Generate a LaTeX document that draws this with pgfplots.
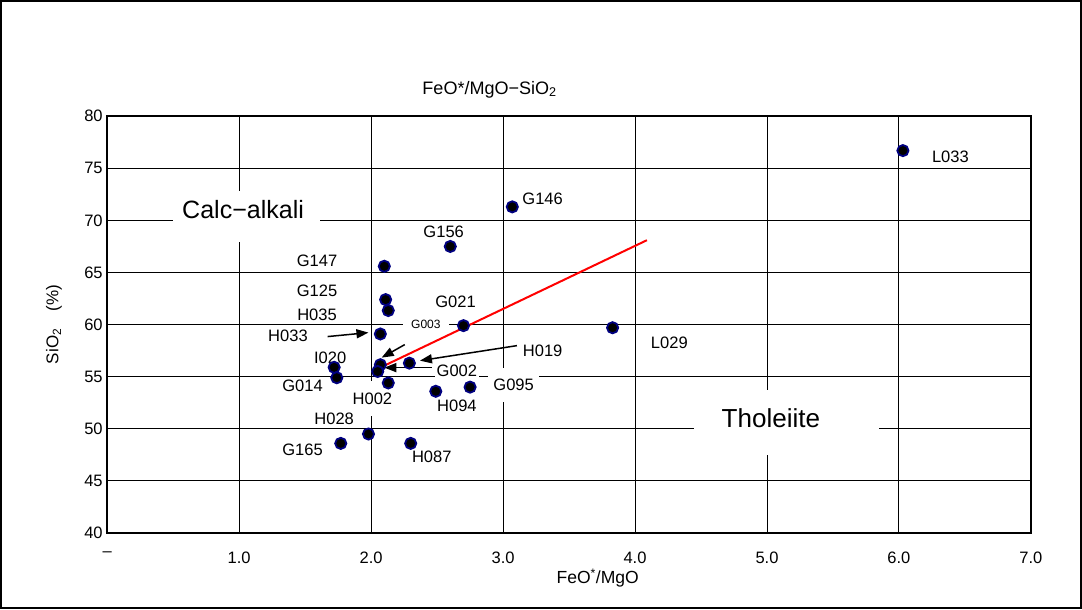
\documentclass[border=0pt]{standalone}
\usepackage{fontspec}
\setmainfont{Liberation Sans}
\usepackage{pgfplots}
\pgfplotsset{compat=1.18}
\usetikzlibrary{arrows.meta}
\definecolor{mknavy}{HTML}{000080}
\definecolor{trendred}{HTML}{FF0000}
\newcommand{\fs}[1]{\fontsize{#1}{#1}\selectfont}

\begin{document}
\begin{tikzpicture}[
  lab/.style={fill=white, inner xsep=2pt, inner ysep=2pt, font=\fs{16.5}},
  arr/.style={-{Triangle[length=12pt,width=9pt]}, line width=1.5pt}]
\begin{axis}[
  scale only axis, width=922pt, height=416pt,
  xmin=0, xmax=7, ymin=40, ymax=80,
  xtick={0,1,...,7}, xticklabels={–,1.0,2.0,3.0,4.0,5.0,6.0,7.0},
  ytick={40,45,...,80},
  major tick length=0pt,
  grid=major, major grid style={black, line width=0.9pt},
  axis line style={line width=1.8pt},
  tick label style={font=\fs{16.5}},
  /pgf/number format/assume math mode=true,
  yticklabel style={xshift=-1pt},
  xticklabel style={yshift=-15pt},
  title={FeO*/MgO−SiO\textsubscript{2}},
  title style={at={(axis description cs:0.414,1.05)}, anchor=center, font=\fs{18}},
  xlabel={FeO\textsuperscript{*}/MgO},
  xlabel style={at={(axis description cs:0.531,-0.108)}, anchor=center, font=\fs{17.5}},
  ylabel={SiO\textsubscript{2}\quad(\%)},
  ylabel style={at={(axis description cs:-0.0575,0.5)}, anchor=center, font=\fs{17}},
]
% white boxes behind the field names
\fill[white] (axis cs:0.50,67.9) rectangle (axis cs:1.61,72.8);
\fill[white] (axis cs:4.45,47.5) rectangle (axis cs:5.85,53.75);

% samples
\addplot[only marks, mark=*, mark size=5.6pt,
  mark options={fill=black, draw=mknavy, line width=1.8pt}] coordinates {
  (6.03,76.7)  % L033
  (3.07,71.3)  % G146
  (2.60,67.5)  % G156
  (2.10,65.6)  % G147
  (2.11,62.4)  % G125
  (2.13,61.35) % H035
  (2.70,59.9)  % G021
  (3.83,59.7)  % L029
  (2.07,59.1)  % H033
  (2.07,56.15) % G003
  (2.05,55.5)  % G002
  (2.29,56.3)  % H019
  (1.72,55.9)  % I020
  (1.74,54.9)  % G014
  (2.13,54.4)  % H002
  (2.49,53.6)  % H094
  (2.75,54.0)  % G095
  (1.98,49.5)  % H028
  (1.77,48.6)  % G165
  (2.30,48.6)  % H087
};

% boundary line
\addplot[trendred, line width=2pt] coordinates {(2.09,56.0) (4.09,68.1)};

% leader arrows
\draw[arr] (axis cs:1.67,58.85) -- (axis cs:1.98,59.23);
\draw[arr] (axis cs:2.255,58.08) -- (axis cs:2.08,56.83);
\draw[arr] (axis cs:3.105,57.98) -- (axis cs:2.37,56.54);
\draw[arr] (axis cs:2.46,55.87) -- (axis cs:2.10,55.87);

% sample names
\node[lab] at (axis cs:6.39,76.15) {L033};
\node[lab] at (axis cs:3.30,72.1) {G146};
\node[lab] at (axis cs:2.55,68.9) {G156};
\node[lab] at (axis cs:1.59,66.15) {G147};
\node[lab] at (axis cs:1.59,63.2) {G125};
\node[lab] at (axis cs:1.59,60.95) {H035};
\node[lab] at (axis cs:2.64,62.2) {G021};
\node[lab, font=\fs{12}, inner xsep=8pt] at (axis cs:2.415,60.0) {G003};
\node[lab] at (axis cs:1.37,58.9) {H033};
\node[lab] at (axis cs:4.26,58.3) {L029};
\node[lab] at (axis cs:3.30,57.5) {H019};
\node[lab] at (axis cs:1.69,56.8) {I020};
\node[lab] at (axis cs:2.65,55.6) {G002};
\node[lab] at (axis cs:1.48,54.1) {G014};
\node[lab, inner ysep=11pt, inner xsep=5pt] at (axis cs:3.08,54.2) {G095};
\node[lab, inner ysep=12pt] at (axis cs:2.01,52.9) {H002};
\node[lab] at (axis cs:2.65,52.2) {H094};
\node[lab] at (axis cs:1.72,51.0) {H028};
\node[lab] at (axis cs:1.48,48.0) {G165};
\node[lab] at (axis cs:2.46,47.3) {H087};

% field names
\node[font=\fs{25}] at (axis cs:1.03,71.0) {Calc−alkali};
\node[font=\fs{26}] at (axis cs:5.03,51.0) {Tholeiite};
\end{axis}
\draw[line width=2pt] (-106pt,-75pt) rectangle (972pt,531pt);
\end{tikzpicture}
\end{document}
